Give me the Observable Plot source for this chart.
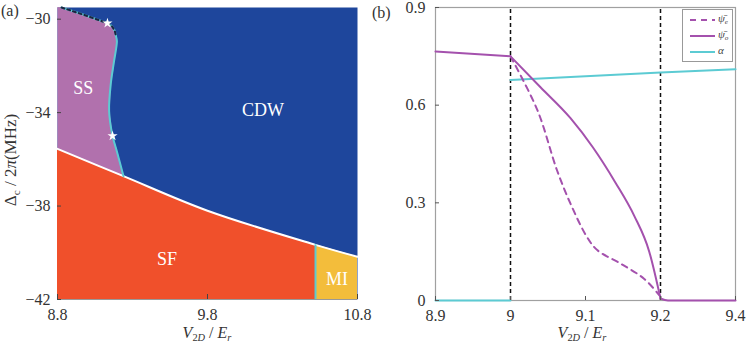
<!DOCTYPE html>
<html><head><meta charset="utf-8">
<script src="https://cdn.jsdelivr.net/npm/d3@7"></script>
<script src="https://cdn.jsdelivr.net/npm/@observablehq/plot@0.6"></script>
<style>
body{margin:0;background:#fff;}
#wrap{position:relative;width:747px;height:347px;font-family:"Liberation Serif","Times New Roman",serif;color:#333;overflow:hidden;}
.abs{position:absolute;white-space:nowrap;line-height:1;}
.plot{position:absolute;top:0;}
sub{font-size:65%;vertical-align:-0.3em;}
</style></head><body><div id="wrap"></div>
<script>
// ---------- Panel (a): phase diagram ----------
const aXDomain = [8.8, 10.8];
const aYDomain = [-42, -29.5];
const aXTicks = [8.8, 9.8, 10.8];
const aYTicks = [-30, -34, -38, -42];
// SF / (SS, CDW, MI) boundary (white line)
const sfBoundaryX = [8.8, 9.24, 9.8, 10.52, 10.8];
const sfBoundaryY = [-35.55, -36.72, -38.2, -39.66, -40.17];
// SF / MI boundary
const miBoundaryX = 10.52;
// SS top edge (dashed) and SS / CDW edge (cyan)
const ssTopX = [8.8, 8.827, 8.95, 9.05, 9.133, 9.163, 9.182, 9.19];
const ssTopY = [-29.5, -29.5, -29.76, -29.98, -30.17, -30.3, -30.5, -30.73];
const ssEdgeX = [9.19, 9.196, 9.177, 9.155, 9.144, 9.167, 9.195, 9.24];
const ssEdgeY = [-30.73, -30.95, -31.8, -32.78, -33.93, -35.0, -35.64, -36.72];
// stars
const starX = [9.133, 9.167];
const starY = [-30.17, -35.0];
// phase labels
const phaseNames = ["SS", "CDW", "SF", "MI"];
const phaseX = [8.972, 10.17, 9.53, 10.663];
const phaseY = [-32.97, -33.9, -40.27, -41.15];

// ---------- Panel (b): order parameters ----------
const bXTickValues = [8.9, 9, 9.1, 9.2, 9.4];
const bXTickLabels = ["8.9", "9", "9.1", "9.2", "9.4"];
const bYTicks = [0, 0.3, 0.6, 0.9];
const bYTickLabels = ["0", "0.3", "0.6", "0.9"];
const bYDomain = [0, 0.9];
const transitionsX = [9, 9.2];
// solid purple: segment 0 before the first transition, 1 between, 2 after
const psiOX = [8.9, 9.0, 9.0, 9.04, 9.08, 9.11, 9.14, 9.165, 9.185, 9.2, 9.2, 9.22, 9.4];
const psiOY = [0.765, 0.75, 0.75, 0.655, 0.56, 0.47, 0.362, 0.26, 0.15, 0.006, 0.006, 0.0, 0.0];
const psiOSeg = [0, 0, 1, 1, 1, 1, 1, 1, 1, 1, 2, 2, 2];
const psiEX = [9.0, 9.036, 9.062, 9.082, 9.102, 9.116, 9.147, 9.178, 9.2];
const psiEY = [0.75, 0.584, 0.40, 0.287, 0.195, 0.154, 0.113, 0.067, 0.012];
const alphaX = [8.9, 9.0, 9.0, 9.2, 9.4];
const alphaY = [0, 0, 0.677, 0.70, 0.71];
const alphaSeg = [0, 0, 1, 1, 1];
const legendLabels = [["ψ̄", "e"], ["ψ̄", "o"], ["α", ""]];

// colours
const cBlue = "#1e469c", cOrange = "#f0502b", cPurple = "#b171ad", cYellow = "#f3bd3b",
      cCyan = "#5ccbd3", cLine = "#a451ad";
const fontStack = "'Liberation Serif', 'Times New Roman', serif";

// ---------- build panel (a) ----------
const boundary = sfBoundaryX.map((x, i) => ({x, y: sfBoundaryY[i]}));
const sfPts = boundary.filter(d => d.x <= miBoundaryX);
const miPts = boundary.filter(d => d.x >= miBoundaryX);
const miTop = boundary.find(d => d.x === miBoundaryX).y;
const ssTop = ssTopX.map((x, i) => ({x, y: ssTopY[i]}));
const ssEdge = ssEdgeX.map((x, i) => ({x, y: ssEdgeY[i]}));
const kinkX = ssEdgeX[ssEdgeX.length - 1];
const ssPoly = [...ssTop, ...ssEdge, ...boundary.filter(d => d.x < kinkX).reverse()];
const stars = starX.map((x, i) => ({x, y: starY[i]}));
const phases = phaseNames.map((n, i) => ({n, x: phaseX[i], y: phaseY[i]}));

const plotA = Plot.plot({
  width: 372, height: 347,
  marginLeft: 57, marginRight: 15, marginTop: 7, marginBottom: 48,
  style: {fontFamily: fontStack, fontSize: "16px", color: "#333", background: "transparent"},
  x: {domain: aXDomain},
  y: {domain: aYDomain},
  marks: [
    Plot.frame({fill: cBlue, stroke: "none"}),
    Plot.areaY(sfPts, {x: "x", y1: aYDomain[0], y2: "y", fill: cOrange, curve: "catmull-rom"}),
    Plot.areaY(miPts, {x: "x", y1: aYDomain[0], y2: "y", fill: cYellow, curve: "catmull-rom"}),
    Plot.line(ssPoly, {x: "x", y: "y", fill: cPurple, stroke: cPurple, strokeWidth: 0.5}),
    Plot.line(boundary, {x: "x", y: "y", stroke: "white", strokeWidth: 2, curve: "catmull-rom"}),
    Plot.ruleX([miBoundaryX], {y1: aYDomain[0], y2: miTop, stroke: cCyan, strokeWidth: 2}),
    Plot.line(ssEdge, {x: "x", y: "y", stroke: cCyan, strokeWidth: 2, curve: "catmull-rom"}),
    Plot.line(ssTop.slice(1), {x: "x", y: "y", stroke: cCyan, strokeWidth: 2}),
    Plot.line(ssTop.slice(1), {x: "x", y: "y", stroke: "#1b2540", strokeWidth: 2, strokeDasharray: "3,3"}),
    Plot.dot(stars, {x: "x", y: "y", symbol: "star", fill: "white", stroke: "none", r: 3.2}),
    Plot.text(phases, {x: "x", y: "y", text: "n", fill: "white", fontSize: 18}),
    Plot.ruleY([aYDomain[0]], {stroke: "#999", strokeWidth: 1.2}),
    Plot.axisX(aXTicks, {tickSize: 0, tickPadding: 9, label: null, fontSize: 16}),
    Plot.axisX(aXTicks, {tickSize: -5, tickFormat: () => "", label: null, stroke: "#444"}),
    Plot.axisY(aYTicks, {tickSize: 0, tickPadding: 7, label: null, fontSize: 16}),
    Plot.axisY(aYTicks, {tickSize: -4, tickFormat: () => "", label: null, stroke: "#444"})
  ]
});

// ---------- build panel (b) ----------
// the axis is drawn with 9.2 -> 9.4 compressed into one tick interval
const dx = x => x <= 9.2 ? x : 9.2 + (x - 9.2) / 2;
const psiO = psiOX.map((x, i) => ({x: dx(x), y: psiOY[i], s: psiOSeg[i]}));
const psiE = psiEX.map((x, i) => ({x: dx(x), y: psiEY[i]}));
const alpha = alphaX.map((x, i) => ({x: dx(x), y: alphaY[i], s: alphaSeg[i]}));
const bTicks = bXTickValues.map(dx);

const plotB = Plot.plot({
  width: 372, height: 347,
  marginLeft: 60, marginRight: 12, marginTop: 7, marginBottom: 47,
  style: {fontFamily: fontStack, fontSize: "16px", color: "#333", background: "transparent"},
  x: {domain: [dx(bXTickValues[0]), dx(bXTickValues[bXTickValues.length - 1])]},
  y: {domain: bYDomain},
  marks: [
    Plot.frame({stroke: "#a0a0a0", strokeWidth: 1.2}),
    Plot.ruleX(transitionsX.map(dx), {y1: bYDomain[0], y2: bYDomain[1], stroke: "#111", strokeWidth: 1.5, strokeDasharray: "4,3"}),
    Plot.line(alpha, {x: "x", y: "y", z: "s", stroke: cCyan, strokeWidth: 2}),
    Plot.line(psiE, {x: "x", y: "y", stroke: cLine, strokeWidth: 2, strokeDasharray: "6,5", curve: "catmull-rom"}),
    Plot.line(psiO, {x: "x", y: "y", z: "s", stroke: cLine, strokeWidth: 2, curve: "monotone-x"}),
    Plot.axisX(bTicks, {tickSize: 0, tickPadding: 9, label: null, fontSize: 16,
      tickFormat: v => bXTickLabels[bTicks.indexOf(v)]}),
    Plot.axisX(bTicks, {tickSize: -4, tickFormat: () => "", label: null, stroke: "#555"}),
    Plot.axisY(bYTicks, {tickSize: 0, tickPadding: 10, label: null, fontSize: 16,
      tickFormat: v => bYTickLabels[bYTicks.indexOf(v)]}),
    Plot.axisY(bYTicks, {tickSize: -4, tickFormat: () => "", label: null, stroke: "#555"})
  ]
});

// ---------- assemble ----------
const wrap = document.getElementById("wrap");
plotA.classList.add("plot"); plotA.style.left = "0px";
plotB.classList.add("plot"); plotB.style.left = "375px";
wrap.appendChild(plotA);
wrap.appendChild(plotB);

function addText(html, left, top, extra = "") {
  const d = document.createElement("div");
  d.className = "abs";
  d.innerHTML = html;
  d.style.cssText += `left:${left}px;top:${top}px;${extra}`;
  wrap.appendChild(d);
  return d;
}
addText("(a)", 1, 3, "font-size:16px;");
addText("(b)", 372, 5, "font-size:16px;");
const xTitle = "<i>V</i><sub>2<i>D</i></sub> / <i>E</i><sub><i>r</i></sub>";
addText(xTitle, 207, 334, "font-size:16px;transform:translate(-50%,-50%);");
addText(xTitle, 582, 334, "font-size:16px;transform:translate(-50%,-50%);");
addText("Δ<sub>c</sub> / 2<i>π</i>(MHz)", 12, 160, "font-size:17px;transform:translate(-50%,-50%) rotate(-90deg);");

// legend
const leg = document.createElement("div");
leg.className = "abs";
leg.style.cssText += "left:682px;top:9px;width:51px;height:53px;border:1px solid #999;background:#fff;box-sizing:border-box;";
wrap.appendChild(leg);
const legStyles = [
  {stroke: cLine, dash: "6,5"},
  {stroke: cLine, dash: ""},
  {stroke: cCyan, dash: ""}
];
legendLabels.forEach((lab, i) => {
  const y = 10 + i * 16;
  const svg = `<svg width="26" height="4" style="position:absolute;left:7px;top:${y - 2}px"><line x1="0" y1="2" x2="25" y2="2" stroke="${legStyles[i].stroke}" stroke-width="2" ${legStyles[i].dash ? `stroke-dasharray="${legStyles[i].dash}"` : ""}/></svg>`;
  const t = `<div style="position:absolute;left:35px;top:${y - 7}px;font-size:11px;font-style:italic;color:#444;line-height:1">${lab[0]}${lab[1] ? `<sub>${lab[1]}</sub>` : ""}</div>`;
  leg.insertAdjacentHTML("beforeend", svg + t);
});
</script>
</body></html>
